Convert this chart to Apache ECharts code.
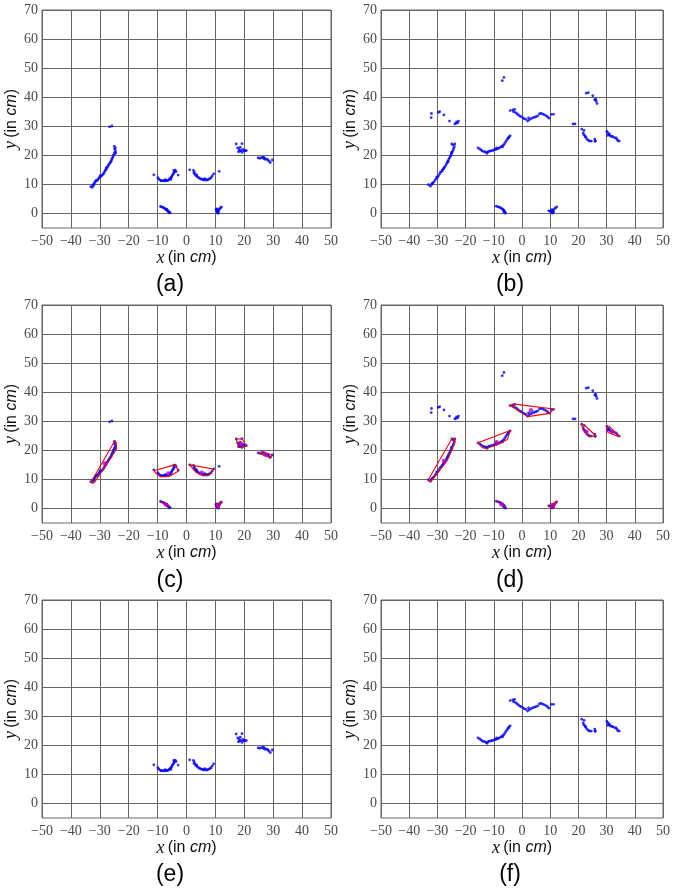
<!DOCTYPE html>
<html>
<head>
<meta charset="utf-8">
<script src="https://cdn.jsdelivr.net/npm/echarts@6/dist/echarts.min.js"></script>
<style>
html,body{margin:0;padding:0;background:#fff;}
#chart{width:673px;height:888px;}
</style>
</head>
<body>
<div id="chart"></div>
<script>
// ---------- tick labels ----------
const xTicks = [-50,-40,-30,-20,-10,0,10,20,30,40,50];
const yTicks = [0,10,20,30,40,50,60,70];
const panelLabels = ['(a)','(b)','(c)','(d)','(e)','(f)'];

// ---------- scan A (panels a, c, e) ----------
const a_leftCurve = [[-33.1,9.2],[-32.6,9.0],[-32.2,9.6],[-32.0,10.1],[-31.8,10.6],[-31.5,11.0],[-31.1,11.5],[-30.8,11.4],[-30.5,11.9],[-30.2,12.3],[-29.8,12.6],[-29.5,12.9],[-29.1,13.2],[-28.8,13.6],[-28.5,14.0],[-28.2,14.6],[-28.0,15.0],[-27.7,15.3],[-27.4,15.9],[-27.1,16.4],[-26.9,16.8],[-26.6,17.2],[-26.3,17.6],[-26.1,18.0],[-25.9,18.5],[-25.7,19.0],[-25.4,19.5],[-25.3,20.1],[-25.0,20.5],[-24.8,21.0],[-24.6,21.6],[-24.9,22.2],[-24.6,22.6],[-25.0,23.1],[-24.5,20.8],[-27.8,15.7],[-29.9,13.0],[-31.3,11.2],[-32.4,9.8]];
const a_topPair = [[-26.6,29.8],[-25.8,30.1]];
const a_leftArc = [[-11.3,13.3],[-9.9,12.3],[-9.6,11.8],[-9.1,11.5],[-8.8,11.2],[-8.4,11.3],[-8.0,11.2],[-7.6,11.3],[-7.2,11.2],[-6.8,11.4],[-6.5,11.3],[-6.1,11.6],[-5.8,11.9],[-5.5,12.2],[-5.2,12.5],[-5.0,12.9],[-4.8,13.3],[-4.5,13.7],[-4.3,14.1],[-4.1,14.5],[-3.9,14.9],[-4.4,14.8],[-3.6,14.4],[-2.9,13.2],[-7.4,11.6],[-5.4,11.7]];
const a_rightArc = [[1.1,15.0],[2.4,14.8],[2.7,14.3],[2.6,13.8],[3.0,13.4],[3.3,13.0],[3.7,12.7],[4.1,12.4],[4.5,12.1],[4.9,11.9],[5.3,11.8],[5.7,11.6],[6.1,11.5],[6.5,11.7],[6.9,11.5],[7.3,11.6],[7.7,11.8],[8.1,12.0],[8.5,12.3],[8.9,12.9],[9.4,13.6],[6.3,12.0],[3.5,13.3]];
const a_outlier = [[11.3,14.5]];
const a_bottomLeft = [[-9.0,2.4],[-8.6,2.3],[-8.2,2.1],[-7.8,1.9],[-7.5,1.7],[-7.2,1.5],[-7.0,1.3],[-6.7,1.1],[-6.5,0.9],[-6.3,0.7],[-6.1,0.5],[-5.9,0.2],[-5.7,0.4],[-6.8,1.4]];
const a_bottomRight = [[10.2,1.4],[10.4,0.9],[10.6,0.5],[10.8,0.2],[11.0,0.6],[11.1,1.0],[11.3,1.3],[11.5,1.7],[11.8,2.0],[12.1,2.2],[10.7,1.2],[11.0,0.1],[10.5,1.6]];
const a_cluster20 = [[17.2,23.9],[19.2,24.0],[17.7,22.6],[18.2,22.0],[18.0,21.2],[18.6,22.8],[18.9,21.6],[19.2,21.0],[19.5,22.0],[19.9,21.5],[20.3,21.7],[20.7,21.6],[18.4,21.5]];
const a_cluster28 = [[24.8,19.1],[25.4,19.0],[26.0,19.2],[26.5,19.4],[27.0,19.1],[27.3,18.6],[27.8,18.7],[28.2,18.4],[28.6,18.0],[29.0,17.5],[29.7,18.4],[26.7,18.9]];

// ---------- scan B (panels b, d, f) ----------
const b_leftCurve = [[-33.2,9.9],[-32.5,9.4],[-32.0,10.0],[-31.6,10.5],[-31.2,10.9],[-30.8,11.5],[-30.4,12.0],[-30.0,12.4],[-29.6,13.0],[-29.2,13.6],[-28.9,14.2],[-28.5,14.4],[-28.2,14.9],[-27.8,15.5],[-27.5,15.9],[-27.1,16.4],[-26.8,17.0],[-26.5,17.5],[-26.2,18.0],[-26.0,18.6],[-25.7,19.1],[-25.4,19.6],[-25.2,20.2],[-24.9,20.7],[-24.7,21.3],[-24.4,21.8],[-24.2,22.4],[-24.0,23.0],[-24.5,23.6],[-23.8,23.9],[-24.9,23.9],[-28.0,15.2],[-30.2,12.6],[-26.3,17.8],[-25.0,21.0],[-31.9,10.3]];
const b_scatterTL = [[-32.1,34.4],[-32.2,33.0],[-29.7,34.8],[-29.2,35.0],[-27.7,33.9],[-25.7,31.8],[-23.8,30.8],[-23.2,31.5],[-22.5,31.8],[-23.4,31.0],[-22.8,31.2]];
const b_topPair = [[-7.0,45.7],[-6.4,46.8]];
const b_midArc = [[-15.6,22.6],[-15.0,22.2],[-14.6,21.9],[-14.1,21.5],[-13.6,21.3],[-13.1,21.2],[-12.6,21.0],[-12.1,21.2],[-11.6,21.4],[-11.1,21.5],[-10.6,21.6],[-10.1,21.8],[-9.6,22.0],[-9.1,22.1],[-8.6,22.3],[-8.1,22.5],[-7.6,22.8],[-7.1,23.2],[-6.6,23.5],[-6.2,24.0],[-5.8,24.6],[-5.4,25.2],[-5.0,25.8],[-4.6,26.3],[-4.2,26.7],[-4.8,26.0],[-12.4,20.7],[-9.0,22.6],[-6.9,22.9]];
const b_upperArc = [[-4.2,35.4],[-3.3,35.6],[-3.0,35.0],[-2.3,34.7],[-1.8,34.3],[-1.3,33.9],[-0.8,33.5],[-0.3,33.3],[0.3,32.9],[0.8,32.6],[1.4,32.4],[2.0,31.8],[2.6,32.2],[3.2,32.6],[3.8,32.9],[4.4,33.1],[5.0,33.3],[5.6,33.6],[6.2,34.3],[6.8,34.4],[7.4,34.2],[8.0,33.9],[8.6,33.6],[9.1,33.2],[9.6,32.8],[10.4,34.1],[11.2,34.1],[-2.6,35.8],[2.3,32.9]];
const b_pair18 = [[18.1,30.8],[18.8,30.8]];
const b_topRight = [[22.8,41.4],[23.5,41.6],[25.1,40.5],[25.8,39.1],[26.3,38.6],[26.6,37.8],[26.1,39.3]];
const b_cluster23 = [[21.2,29.0],[22.0,28.6],[21.7,27.7],[21.9,27.1],[22.3,26.7],[22.7,26.1],[23.1,25.5],[23.6,25.1],[24.0,24.9],[24.6,24.9],[25.8,25.6],[26.0,25.0],[25.9,24.8],[22.5,26.4]];
const b_cluster32 = [[30.1,28.2],[30.5,27.7],[30.9,27.0],[31.3,26.7],[31.8,26.5],[32.2,26.4],[32.8,26.1],[33.4,26.0],[33.7,25.5],[34.0,25.0],[34.5,24.9],[30.3,26.9],[31.0,27.3]];
const b_bottomLeft = [[-9.1,2.5],[-8.6,2.3],[-8.1,2.2],[-7.7,2.0],[-7.2,1.7],[-6.9,1.5],[-6.6,1.2],[-6.4,1.0],[-6.2,0.7],[-6.0,0.4],[-5.9,0.1],[-6.5,0.6]];
const b_bottomRight = [[9.5,0.9],[10.0,0.8],[10.3,0.6],[10.7,0.1],[10.9,1.1],[11.2,0.7],[11.5,1.6],[11.9,1.9],[12.3,2.3],[10.6,1.3],[11.1,0.3]];

// ---------- hulls and centres ----------
const c_hullCurve = [[-33.1,8.9],[-24.8,23.3],[-24.2,22.0],[-24.3,20.3],[-31.9,8.9],[-33.1,8.9]];
const c_hullLeftArc = [[-11.3,13.0],[-4.2,15.0],[-2.6,13.0],[-6.0,11.0],[-9.0,10.9],[-10.3,11.8],[-11.3,13.0]];
const c_hullRightArc = [[1.1,15.0],[9.4,13.6],[7.7,11.4],[5.6,11.3],[3.3,12.4],[1.1,15.0]];
const c_hull20 = [[17.2,23.9],[19.2,24.0],[20.7,21.6],[19.2,20.9],[18.0,21.1],[17.2,23.9]];
const c_hull28 = [[24.8,19.1],[26.5,19.4],[29.7,18.4],[29.0,17.4],[24.8,19.1]];
const c_hullBL = [[-9.0,2.4],[-8.6,2.4],[-5.7,0.4],[-5.9,0.1],[-9.0,2.4]];
const c_hullBR = [[10.2,1.4],[12.1,2.2],[11.0,0.0],[10.7,0.1],[10.2,1.4]];
const c_centres = [[-28.3,15.5],[-6.3,12.0],[5.3,12.3],[18.9,22.2],[27.3,18.6],[-7.2,1.4],[11.0,1.0]];

const d_hullCurve = [[-33.4,9.6],[-24.8,24.1],[-23.7,24.1],[-23.9,22.5],[-26.5,16.5],[-31.7,10.0],[-32.6,9.2],[-33.4,9.6]];
const d_hullMidArc = [[-15.6,22.6],[-4.2,26.8],[-3.6,26.6],[-5.2,23.7],[-8.7,22.0],[-12.6,20.6],[-14.0,20.9],[-15.6,22.6]];
const d_hullUpperArc = [[-4.3,35.5],[-2.6,35.9],[11.2,34.2],[9.8,32.7],[2.0,31.6],[-4.3,35.5]];
const d_hull23 = [[21.0,29.1],[22.0,28.8],[26.1,25.1],[25.8,24.6],[24.0,24.7],[21.8,26.8],[21.0,29.1]];
const d_hull32 = [[30.1,28.3],[30.9,28.3],[34.6,24.8],[33.4,25.0],[30.5,26.1],[29.9,27.2],[30.1,28.3]];
const d_hullBL = [[-9.2,2.6],[-8.7,2.6],[-5.5,0.3],[-5.9,0.0],[-9.2,2.6]];
const d_hullBR = [[9.5,0.9],[12.3,2.4],[11.1,0.0],[9.5,0.9]];
const d_centres = [[-27.7,16.3],[-9.0,22.8],[3.2,33.8],[22.9,26.4],[31.9,26.4],[-7.3,1.4],[11.0,1.1]];

// ---------- panel composition ----------
const scanA = [a_leftCurve,a_topPair,a_leftArc,a_rightArc,a_outlier,a_bottomLeft,a_bottomRight,a_cluster20,a_cluster28];
const scanB = [b_leftCurve,b_scatterTL,b_topPair,b_midArc,b_upperArc,b_pair18,b_topRight,b_cluster23,b_cluster32,b_bottomLeft,b_bottomRight];
const panels = [
  {points: scanA, hulls: [], centres: []},
  {points: scanB, hulls: [], centres: []},
  {points: scanA, hulls: [c_hullCurve,c_hullLeftArc,c_hullRightArc,c_hull20,c_hull28,c_hullBL,c_hullBR], centres: c_centres},
  {points: scanB, hulls: [d_hullCurve,d_hullMidArc,d_hullUpperArc,d_hull23,d_hull32,d_hullBL,d_hullBR], centres: d_centres},
  {points: [a_leftArc,a_rightArc,a_cluster20,a_cluster28], hulls: [], centres: []},
  {points: [b_midArc,b_upperArc,b_cluster23,b_cluster32], hulls: [], centres: []}
];

// layout
const colLeft = [42, 381];
const colWidth = [289, 288];
const rowTop = [10, 305, 600];
const plotH = 218;
const labelX = [170, 510];
const labelY = [285, 581, 875];

const serif = 'Times New Roman';
const sans = 'Liberation Sans';
const gridColor = '#666666';
const fmtNum = v => (v < 0 ? '\u2212' + (-v) : String(v));
const tickRich = {t: {fontFamily: serif, fontSize: 14, color: '#4a4a4a'}};
const nameRich = {
  it: {fontFamily: serif, fontStyle: 'italic', fontSize: 18, color: '#111'},
  sf: {fontFamily: sans, fontSize: 16, color: '#111'},
  si: {fontFamily: sans, fontStyle: 'italic', fontSize: 16, color: '#111'}
};

const grids = [], xAxes = [], yAxes = [], series = [], graphics = [];
panels.forEach((p, i) => {
  const col = i % 2, row = Math.floor(i / 2);
  grids.push({left: colLeft[col], top: rowTop[row], width: colWidth[col], height: plotH,
    show: true, borderColor: gridColor, borderWidth: 1, backgroundColor: '#fff', containLabel: false});
  xAxes.push({gridIndex: i, type: 'value', min: xTicks[0], max: xTicks[xTicks.length-1], interval: 10,
    axisLine: {show: false}, axisTick: {show: false},
    splitLine: {show: true, lineStyle: {color: gridColor, width: 1}},
    axisLabel: {formatter: v => '{t|' + fmtNum(v) + '}', rich: tickRich, margin: 6},
    name: '{it|x} {sf|(in }{si|cm}{sf|)}', nameLocation: 'middle', nameGap: 20,
    nameTextStyle: {rich: nameRich}});
  yAxes.push({gridIndex: i, type: 'value', min: -5, max: 70, interval: 5,
    axisLine: {show: false}, axisTick: {show: false}, splitLine: {show: false},
    axisLabel: {formatter: v => (yTicks.indexOf(v) >= 0 ? '{t|' + fmtNum(v) + '}' : ''), rich: tickRich, margin: 4},
    name: '{it|y} {sf|(in }{si|cm}{sf|)}', nameLocation: 'middle', nameGap: 21,
    nameTextStyle: {rich: nameRich}});
  // horizontal grid lines at the tick values
  series.push({type: 'scatter', xAxisIndex: i, yAxisIndex: i, data: [], silent: true, z: 1,
    markLine: {silent: true, symbol: ['none','none'], z: 1, animation: false, label: {show: false},
      lineStyle: {color: gridColor, width: 1, type: 'solid'},
      data: yTicks.map(v => ({yAxis: v}))}});
  // blue points
  series.push({type: 'scatter', xAxisIndex: i, yAxisIndex: i, z: 3, silent: true,
    symbol: 'circle', symbolSize: 2.8, itemStyle: {color: '#0000ff'},
    data: [].concat(...p.points)});
  // hulls
  p.hulls.forEach(h => {
    series.push({type: 'line', xAxisIndex: i, yAxisIndex: i, z: 4, silent: true, symbol: 'none',
      lineStyle: {color: '#ff0000', width: 1.1}, data: h});
  });
  if (p.centres.length) {
    series.push({type: 'scatter', xAxisIndex: i, yAxisIndex: i, z: 5, silent: true,
      symbol: 'circle', symbolSize: 4.5, itemStyle: {color: '#c000c0'}, data: p.centres});
  }
  graphics.push({type: 'text', x: labelX[col], y: labelY[row],
    style: {text: panelLabels[i], font: '23px "Liberation Sans"', fill: '#000', textAlign: 'center', textVerticalAlign: 'middle'}});
});

const chart = echarts.init(document.getElementById('chart'), null, {renderer: 'canvas'});
chart.setOption({
  animation: false,
  backgroundColor: '#fff',
  grid: grids, xAxis: xAxes, yAxis: yAxes, series: series, graphic: graphics
});
</script>
</body>
</html>
